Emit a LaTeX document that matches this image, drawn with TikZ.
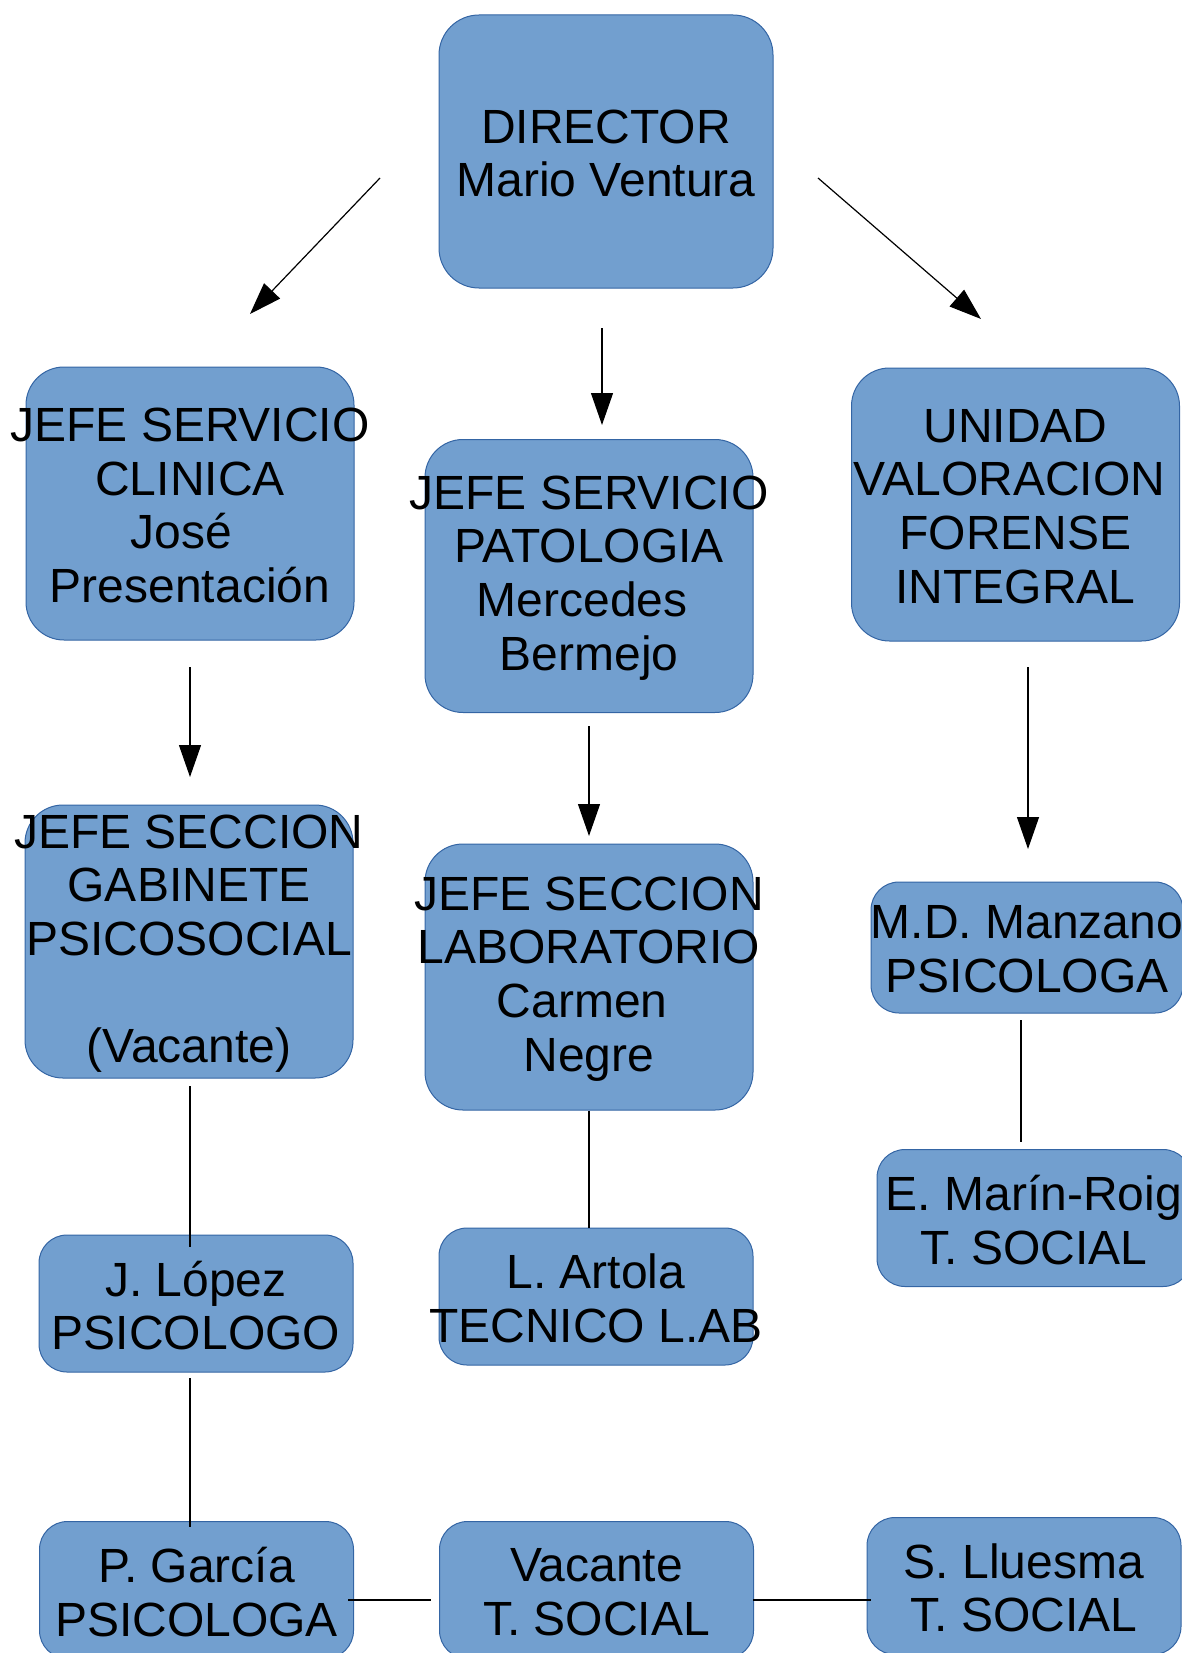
\documentclass[tikz,border=0pt]{standalone}
\usepackage{fontspec}
\setmainfont{Liberation Sans}
\usetikzlibrary{arrows.meta}
\definecolor{boxfill}{HTML}{729FCF}
\definecolor{boxline}{HTML}{3465A4}

\begin{document}
\begin{tikzpicture}[x=0.5pt,y=-0.5pt,
  box/.style={draw=boxline,fill=boxfill,line width=0.5pt,rounded corners=14pt,inner sep=0pt},
  big/.style={box,rounded corners=19pt,minimum width=164pt,minimum height=136.5pt},
  small/.style={box,minimum width=157pt,minimum height=68.5pt},
  txt/.style={align=center,inner sep=0pt,yshift=-1pt,font=\fontsize{24}{26.8}\selectfont},
  arr/.style={-{Triangle[length=16pt,width=11pt]},line width=0.6pt},
  ln/.style={line width=0.6pt}]
\clip (0,0) rectangle (1182,1653);

\node[big,minimum width=167pt,rounded corners=20pt] (dir) at (606,151.5) {};
\node[txt] (dirt) at (dir) {DIRECTOR\\Mario Ventura};

\node[big] (clin) at (190,503.5) {};
\node[txt] (clint) at (clin) {JEFE SERVICIO\\CLINICA\\José\rule{0.35em}{0pt}\\Presentación};

\node[big] (pat) at (589,576) {};
\node[txt] (patt) at (pat) {JEFE SERVICIO\\PATOLOGIA\\Mercedes\rule{0.28em}{0pt}\\Bermejo};

\node[big] (uvfi) at (1015.5,504.5) {};
\node[txt] (uvfit) at (uvfi) {UNIDAD\\VALORACION\rule{0.25em}{0pt}\\FORENSE\\INTEGRAL};

\node[big] (gab) at (189,941.5) {};
\node[txt] (gabt) at (gab) {JEFE SECCION\\GABINETE\\PSICOSOCIAL\\[26.8pt](Vacante)};

\node[big,minimum height=133pt] (lab) at (589,977) {};
\node[txt] (labt) at (lab) {JEFE SECCION\\LABORATORIO\\Carmen\rule{0.28em}{0pt}\\Negre};

\node[small,minimum width=156pt,minimum height=65.5pt] (manz) at (1027,947.5) {};
\node[txt] (manzt) at (manz) {M.D. Manzano\\PSICOLOGA};

\node[small] (marin) at (1034,1218) {};
\node[txt] (marint) at (marin) {E. Marín-Roig\\T. SOCIAL};

\node[small] (lopez) at (196,1303.5) {};
\node[txt] (lopezt) at (lopez) {J. López\\PSICOLOGO};

\node[small] (artola) at (596,1296.5) {};
\node[txt] (artolat) at (artola) {L. Artola\\TECNICO L.AB};

\node[small] (garcia) at (196.5,1590) {};
\node[txt] (garciat) at (garcia) {P. García\\PSICOLOGA};

\node[small] (vac) at (596.5,1590) {};
\node[txt] (vact) at (vac) {Vacante\\T. SOCIAL};

\node[small] (llu) at (1024,1586) {};
\node[txt] (llut) at (llu) {S. Lluesma\\T. SOCIAL};

% free ends of the connectors
\coordinate (d1) at (380,178);   \coordinate (c1) at (250,314);
\coordinate (d2) at (818,178);   \coordinate (u1) at (981,319);
\coordinate (d3) at (602,328);   \coordinate (p1) at (602,425);
\coordinate (c2) at (190,667);   \coordinate (g1) at (190,777);
\coordinate (p2) at (589,726);   \coordinate (l1) at (589,836);
\coordinate (u2) at (1028,667);  \coordinate (m1) at (1028,849);
\coordinate (g2) at (190,1086);  \coordinate (j1) at (190,1247);
\coordinate (m2) at (1021,1020); \coordinate (e1) at (1021,1142);
\coordinate (j2) at (190,1378);  \coordinate (pg1) at (190,1527);
\coordinate (pg2) at (348,1600); \coordinate (v1) at (431,1600);
\coordinate (v2) at (753,1600);  \coordinate (s1) at (871,1600);

\draw[arr] (d1) -- (c1);
\draw[arr] (d2) -- (u1);
\draw[arr] (d3) -- (p1);
\draw[arr] (c2) -- (g1);
\draw[arr] (p2) -- (l1);
\draw[arr] (u2) -- (m1);

\draw[ln] (g2) -- (j1);
\draw[ln] (lab.south) -- (lab.south |- artola.north);
\draw[ln] (m2) -- (e1);
\draw[ln] (j2) -- (pg1);
\draw[ln] (pg2) -- (v1);
\draw[ln] (v2) -- (s1);
\end{tikzpicture}
\end{document}
